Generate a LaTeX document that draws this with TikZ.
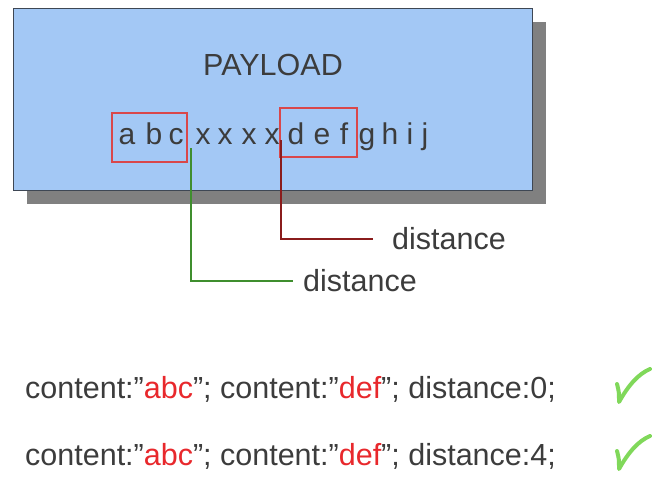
\documentclass[tikz,border=0pt]{standalone}
\usepackage{fontspec}
\setmainfont{Liberation Sans}
\definecolor{payloadblue}{HTML}{A3C8F5}
\definecolor{shadowgray}{HTML}{808080}
\definecolor{bordergray}{HTML}{3E4754}
\definecolor{textgray}{HTML}{3C3C3C}
\definecolor{matchred}{HTML}{E8282C}
\definecolor{boxred}{HTML}{D9474A}
\definecolor{linegreen}{HTML}{3F8E2E}
\definecolor{linered}{HTML}{8A1C1C}
\definecolor{checkgreen}{HTML}{80D85A}
\newcommand{\bigfont}{\fontsize{30.5}{30.5}\selectfont}
\begin{document}
\begin{tikzpicture}[x=1pt,y=-1pt,
	txt/.style={text=textgray,inner sep=0pt,font=\bigfont},
	letter/.style={txt,anchor=base,font=\fontsize{30}{30}\selectfont},
	matchbox/.style={draw=boxred,line width=1.2pt,inner sep=0pt},
	check/.style={checkgreen,line width=4pt,line cap=round,line join=round}]
	\useasboundingbox (0,0) rectangle (664,480);
	% payload box with shadow
	\fill[shadowgray] (27,22) rectangle (546,204);
	\node[draw=bordergray,fill=payloadblue,line width=1pt,minimum width=519pt,minimum height=182pt,anchor=north west,inner sep=0pt](payload) at (13,8){};
	\node[txt](title) at (273,65){PAYLOAD};
	% the letters
	\foreach \ch/\x [count=\i] in {a/127,b/154,c/176,x/203,x/225,x/249,x/272,d/296,e/322,f/344,g/367,h/390,i/410,j/425}
		\node[letter](l\i) at (\x,144){\ch};
	\node[matchbox,minimum width=75pt,minimum height=49pt](abc) at (149.5,137.5){};
	\node[matchbox,minimum width=77pt,minimum height=49pt](def) at (318.5,132.5){};
	% distances
	\node[txt,anchor=west](dist1) at (392,239){distance};
	\node[txt,anchor=west](dist2) at (303,281){distance};
	\coordinate (gstart) at (191,148);
	\coordinate (rstart) at (281,140);
	\draw[linered,line width=1.5pt] (rstart) |- ([xshift=-19pt]dist1.west);
	\draw[linegreen,line width=1.5pt] (gstart) |- ([xshift=-10pt]dist2.west);
	% rules
	\node[txt,anchor=base west](rule1) at (25,398){content:"\textcolor{matchred}{abc}"; content:"\textcolor{matchred}{def}"; distance:0;};
	\node[txt,anchor=base west](rule2) at (25,465){content:"\textcolor{matchred}{abc}"; content:"\textcolor{matchred}{def}"; distance:4;};
	\draw[check] (617,384) .. controls (619,392) .. (619,402) .. controls (628,386) and (638,374) .. (650,369);
	\draw[check] (617,451) .. controls (619,459) .. (619,469) .. controls (628,453) and (638,441) .. (650,436);
\end{tikzpicture}
\end{document}
